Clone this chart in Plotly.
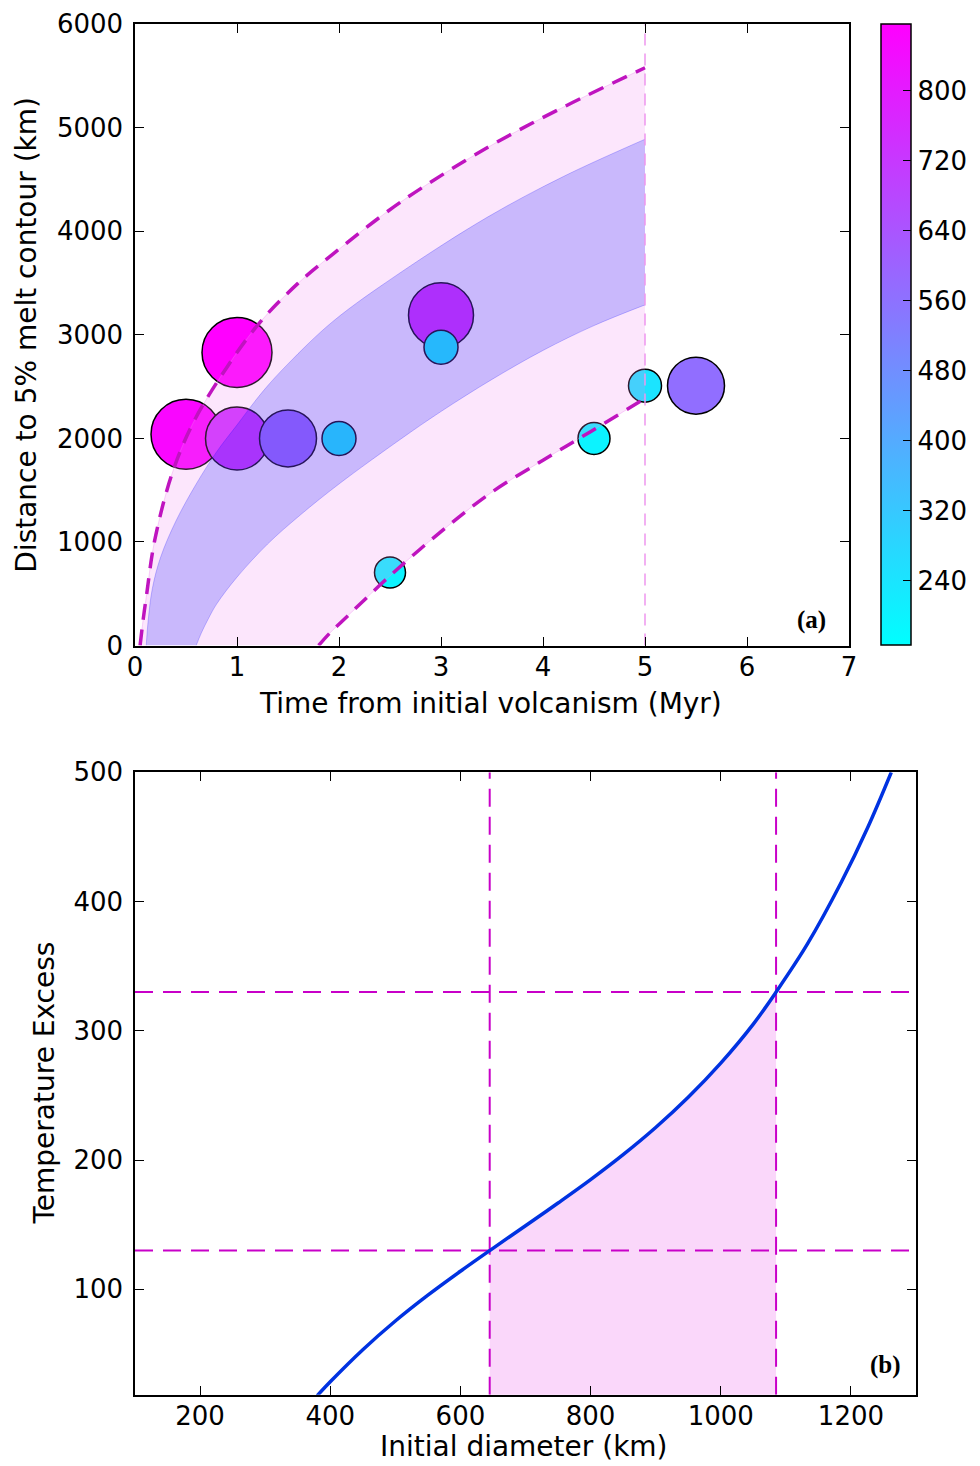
import plotly.graph_objects as go

# ---------------- Panel (a) data ----------------
time_myr = [0.5, 1.0, 1.0, 1.5, 2.0, 2.5, 3.0, 3.0, 4.5, 5.0, 5.5]
distance_km = [2040, 2830, 2000, 2000, 2000, 705, 3190, 2880, 2000, 2510, 2510]
bubble_diam = [70, 70, 63, 57, 34, 31, 65, 34, 32, 33, 57]
colour_value = [860, 876, 740, 575, 175, 200, 760, 166, 200, 240, 570]
cbar_min, cbar_max = 166, 876
cbar_ticks = [240, 320, 400, 480, 560, 640, 720, 800]

# outer envelope (dashed curves)
outer_up_t = [0.05, 0.08, 0.115, 0.19, 0.36, 0.57, 0.9, 1.225, 1.6, 1.94, 2.6, 3.46, 4.2, 5.0]
outer_up_d = [0, 250, 500, 1000, 1650, 2150, 2686, 3121, 3500, 3780, 4280, 4812, 5200, 5580]
outer_lo_t = [1.8, 1.9, 2.1, 2.53, 3.0, 3.48, 4.0, 4.47, 5.0]
outer_lo_d = [0, 110, 300, 700, 1100, 1469, 1790, 2068, 2386]

# inner band
inner_up_t = [0.11, 0.13, 0.17, 0.25, 0.4, 0.6, 0.8, 1.0, 1.25, 1.5, 1.94, 2.6, 3.46, 4.2, 5.0]
inner_up_d = [0, 250, 550, 850, 1200, 1560, 1870, 2130, 2450, 2720, 3130, 3600, 4140, 4530, 4890]
inner_lo_t = [0.6, 0.65, 0.72, 0.8, 1.0, 1.3, 1.62, 2.0, 2.6, 3.0, 3.5, 4.0, 4.5, 5.0]
inner_lo_d = [0, 120, 260, 400, 660, 980, 1260, 1560, 1990, 2260, 2570, 2850, 3090, 3290]

cutoff_time = 5.0
x_ticks_a = [0, 1, 2, 3, 4, 5, 6, 7]
y_ticks_a = [0, 1000, 2000, 3000, 4000, 5000, 6000]

# ---------------- Panel (b) data ----------------
diameter_km = [380, 400, 450, 500, 550, 600, 645, 700, 750, 800, 850, 900, 950,
               1000, 1050, 1085, 1133, 1185, 1226, 1262]
temp_excess = [17.8, 28.5, 53.3, 75.5, 95.5, 114, 130, 149.2, 166.8, 184.9, 204.2, 225.2,
               248.6, 275, 305.2, 330, 367, 414.7, 457.5, 500]
d_low, d_high = 645, 1085
t_low, t_high = 130, 330
x_ticks_b = [200, 400, 600, 800, 1000, 1200]
y_ticks_b = [100, 200, 300, 400, 500]
y_min_b = 18.5

FONT = "DejaVu Sans"
cool = [[0, "rgb(0,255,255)"], [1, "rgb(255,0,255)"]]

# page geometry (the browser body adds an 8 px margin)
W, H, OFF = 972, 1458, 8


def fx(px):
    return (px - OFF) / W


def fy(py):
    return 1 - (py - OFF) / H


fig = go.Figure()

# bubbles (drawn first, beneath the translucent bands)
fig.add_trace(go.Scatter(
    x=time_myr, y=distance_km, mode="markers", xaxis="x", yaxis="y",
    marker=dict(size=bubble_diam, sizemode="diameter", color=colour_value,
                colorscale=cool, cmin=cbar_min, cmax=cbar_max,
                line=dict(color="black", width=1.5), opacity=1,
                colorbar=dict(x=fx(881), xanchor="left", xpad=0,
                              y=fy(24.3), yanchor="top", ypad=0,
                              len=(645.5 - 24.3) / H, lenmode="fraction",
                              thickness=30, thicknessmode="pixels",
                              outlinewidth=1.5, outlinecolor="black",
                              tickvals=cbar_ticks, ticks="inside", ticklen=8,
                              tickcolor="black", tickwidth=1,
                              tickfont=dict(family=FONT, size=26, color="black"))),
    showlegend=False, hoverinfo="skip"))

# pink outer band
fig.add_trace(go.Scatter(x=outer_lo_t, y=outer_lo_d, mode="lines", xaxis="x", yaxis="y",
                         line=dict(color="rgba(238,130,238,0.35)", width=1, shape="spline"),
                         showlegend=False, hoverinfo="skip"))
fig.add_trace(go.Scatter(x=outer_up_t, y=outer_up_d, mode="lines", xaxis="x", yaxis="y",
                         fill="tonexty", fillcolor="rgba(238,130,238,0.2)",
                         line=dict(color="rgba(238,130,238,0.35)", width=1, shape="spline"),
                         showlegend=False, hoverinfo="skip"))
# blue inner band
fig.add_trace(go.Scatter(x=inner_lo_t, y=inner_lo_d, mode="lines", xaxis="x", yaxis="y",
                         line=dict(color="rgba(0,0,255,0.22)", width=1, shape="spline"),
                         showlegend=False, hoverinfo="skip"))
fig.add_trace(go.Scatter(x=inner_up_t, y=inner_up_d, mode="lines", xaxis="x", yaxis="y",
                         fill="tonexty", fillcolor="rgba(0,0,255,0.2)",
                         line=dict(color="rgba(0,0,255,0.22)", width=1, shape="spline"),
                         showlegend=False, hoverinfo="skip"))
# vertical cutoff line
fig.add_trace(go.Scatter(x=[cutoff_time, cutoff_time], y=[y_ticks_a[0], y_ticks_a[-1]],
                         mode="lines", xaxis="x", yaxis="y",
                         line=dict(color="rgb(238,150,238)", width=1.5, dash="12px,8px"),
                         showlegend=False, hoverinfo="skip"))
# dashed envelopes
for tt, dd in [(outer_up_t, outer_up_d), (outer_lo_t, outer_lo_d)]:
    fig.add_trace(go.Scatter(x=tt, y=dd, mode="lines", xaxis="x", yaxis="y",
                             line=dict(color="rgb(191,20,191)", width=3.5,
                                       dash="16px,10px", shape="spline"),
                             showlegend=False, hoverinfo="skip"))

# ---------------- Panel (b) ----------------
fill_d = [d for d in diameter_km if d_low <= d <= d_high]
fill_t = [t for d, t in zip(diameter_km, temp_excess) if d_low <= d <= d_high]
fig.add_trace(go.Scatter(x=fill_d, y=fill_t, mode="lines", xaxis="x2", yaxis="y2",
                         fill="tozeroy", fillcolor="rgba(238,130,238,0.32)",
                         line=dict(width=0, shape="spline"),
                         showlegend=False, hoverinfo="skip"))
dash_b = dict(color="rgb(200,0,200)", width=2, dash="18px,10px")
for tv in [t_low, t_high]:
    fig.add_trace(go.Scatter(x=[100, 1300], y=[tv, tv], mode="lines", xaxis="x2", yaxis="y2",
                             line=dash_b, showlegend=False, hoverinfo="skip"))
for dv in [d_low, d_high]:
    fig.add_trace(go.Scatter(x=[dv, dv], y=[y_min_b, 500], mode="lines", xaxis="x2", yaxis="y2",
                             line=dash_b, showlegend=False, hoverinfo="skip"))
fig.add_trace(go.Scatter(x=diameter_km, y=temp_excess, mode="lines", xaxis="x2", yaxis="y2",
                         line=dict(color="rgb(0,50,225)", width=3.5, shape="spline"),
                         showlegend=False, hoverinfo="skip"))

axis_style = dict(showgrid=False, zeroline=False, showline=True, linecolor="black",
                  linewidth=1.5, ticks="inside", ticklen=9, tickwidth=1, tickcolor="black",
                  mirror="ticks", tickfont=dict(family=FONT, size=26, color="black"))

fig.update_layout(
    width=W, height=H, margin=dict(l=0, r=0, t=0, b=0, autoexpand=False),
    paper_bgcolor="white", plot_bgcolor="white", showlegend=False,
    xaxis=dict(axis_style, domain=[fx(135), fx(849)], range=[0, 7], anchor="y",
               tickvals=x_ticks_a, ticklabelstandoff=-2),
    yaxis=dict(axis_style, domain=[fy(645.5), fy(24.3)], range=[0, 6000],
               anchor="x", tickvals=y_ticks_a, ticklabelstandoff=5),
    xaxis2=dict(axis_style, domain=[fx(135), fx(916)], range=[100, 1300], anchor="y2",
                tickvals=x_ticks_b, ticklabelstandoff=-3),
    yaxis2=dict(axis_style, domain=[fy(1394.7), fy(772.3)],
                range=[y_min_b, 500], anchor="x2", tickvals=y_ticks_b, ticklabelstandoff=5),
)

lab = dict(family=FONT, size=28, color="black")
ann = [
    dict(text="Distance to 5% melt contour (km)", x=fx(27), y=fy(334.7),
         textangle=-90, font=lab),
    dict(text="Time from initial volcanism (Myr)", x=fx(490.5), y=fy(703), font=lab),
    dict(text="Temperature Excess", x=fx(44), y=fy(1083.5), textangle=-90, font=lab),
    dict(text="Initial diameter (km)", x=fx(524), y=fy(1446), font=lab),
    dict(text="<b>(a)</b>", x=fx(811), y=fy(620),
         font=dict(family="Liberation Serif", size=25, color="black")),
    dict(text="<b>(b)</b>", x=fx(885), y=fy(1365),
         font=dict(family="Liberation Serif", size=25, color="black")),
]
for a in ann:
    a.update(xref="paper", yref="paper", showarrow=False, xanchor="center", yanchor="middle",
             borderpad=0)
fig.update_layout(annotations=ann)

fig.write_html("out.html")
